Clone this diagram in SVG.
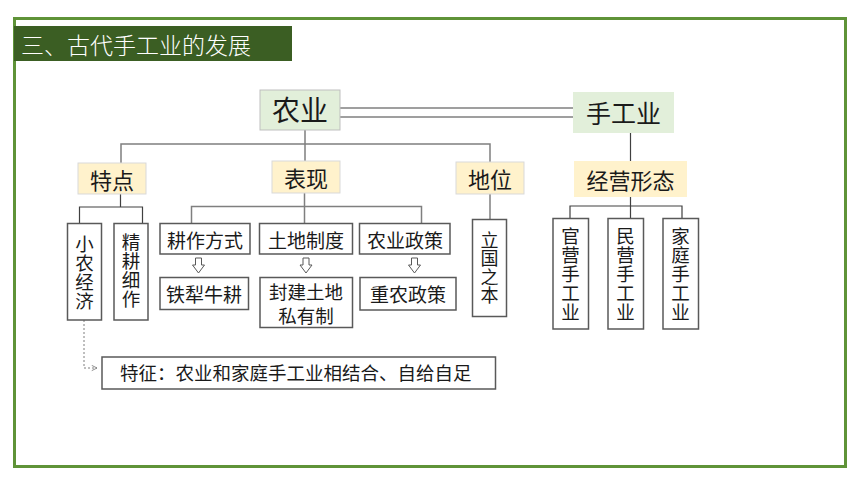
<svg xmlns="http://www.w3.org/2000/svg" width="860" height="484" viewBox="0 0 860 484">
<style>
text{font-family:"Noto Sans CJK SC","Noto Sans",sans-serif;fill:#1a1a1a;}
.box{fill:#fff;stroke:#595959;stroke-width:1.5;}
.yel{fill:#FFF2CC;stroke:#D9D9D9;stroke-width:1;}
.grn{fill:#E2EFDA;stroke:#BFBFBF;stroke-width:1;}
.ln{fill:none;stroke:#7F7F7F;stroke-width:1.5;}
.dk{fill:none;stroke:#404040;stroke-width:1.2;}
.arr{fill:#fff;stroke:#595959;stroke-width:1;}
.c{text-anchor:middle;dominant-baseline:central;}
.v{font-size:18.5px;text-anchor:middle;writing-mode:vertical-rl;}
.v2{font-size:18px;text-anchor:middle;writing-mode:vertical-rl;}
</style>
<defs>
<marker id="ah" viewBox="0 0 8 8" refX="7" refY="4" markerWidth="7" markerHeight="7" orient="auto" markerUnits="userSpaceOnUse">
<path d="M1,1 L7,4 L1,7" fill="none" stroke="#7F7F7F" stroke-width="1"/>
</marker>
</defs>
<rect x="0" y="0" width="860" height="484" fill="#fff"/>
<rect x="14.5" y="18.5" width="831" height="448" fill="none" stroke="#5F9338" stroke-width="3"/>
<g id="title">
<rect x="14" y="26" width="278" height="35" fill="#3B5E23"/>
<text x="21" y="44" style="font-size:23px;fill:#fff;font-weight:300;dominant-baseline:central">三、古代手工业的发展</text>
</g>
<g id="connectors">
<line class="ln" x1="340" y1="108" x2="574" y2="108"/>
<line class="ln" x1="340" y1="117" x2="574" y2="117"/>
<path class="ln" d="M305,130 V163 M121,163 V144 H490 V163"/>
<path class="dk" d="M630.5,133 V161"/>
<path class="dk" d="M120.5,194 V207 M79.5,223 V207 H142.5 V223"/>
<path class="ln" d="M304.5,193 V223 M191.5,223 V206.5 H421.5 V223"/>
<path class="ln" d="M490,194 V219"/>
<path class="dk" d="M630.5,197 V218 M570,218 V206 H682 V218"/>
<path d="M84,320 V368 H97" fill="none" stroke="#7F7F7F" stroke-width="1" stroke-dasharray="2,2" marker-end="url(#ah)"/>
<polygon class="arr" points="195.5,258 201.5,258 201.5,265 204.5,265 198.5,273 192.5,265 195.5,265"/>
<polygon class="arr" points="303,258 309,258 309,265 312,265 306,273 300,265 303,265"/>
<polygon class="arr" points="411.5,258 417.5,258 417.5,265 420.5,265 414.5,273 408.5,265 411.5,265"/>
</g>
<g id="nongye"><rect class="grn" x="260" y="90" width="80" height="40"/><text class="c" x="300" y="109" style="font-size:28px">农业</text></g>
<g id="shougongye"><rect x="573" y="92" width="101" height="41" fill="#E2EFDA"/><text class="c" x="623.5" y="112" style="font-size:25px">手工业</text></g>
<g id="tedian"><rect class="yel" x="78" y="163" width="68" height="31"/><text class="c" x="112" y="179" style="font-size:22px">特点</text></g>
<g id="biaoxian"><rect class="yel" x="272" y="161" width="68" height="32"/><text class="c" x="306" y="177" style="font-size:22px">表现</text></g>
<g id="diwei"><rect class="yel" x="456" y="162" width="68" height="32"/><text class="c" x="490" y="178" style="font-size:22px">地位</text></g>
<g id="jingying"><rect x="574" y="161" width="113" height="36" fill="#FFF2CC"/><text class="c" x="630.5" y="179" style="font-size:22px">经营形态</text></g>
<g id="xiaonong"><rect class="box" x="67.5" y="223.5" width="34" height="96.5"/>
<text class="v" x="84.5" y="244">小</text><text class="v" x="84.5" y="263">农</text><text class="v" x="84.5" y="282">经</text><text class="v" x="84.5" y="301">济</text></g>
<g id="jinggeng"><rect class="box" x="114" y="223.5" width="34" height="96.5"/>
<text class="v" x="131" y="242">精</text><text class="v" x="131" y="261">耕</text><text class="v" x="131" y="280">细</text><text class="v" x="131" y="299">作</text></g>
<g id="gengzuo"><rect class="box" x="160" y="223.5" width="90" height="30.5"/><text class="c" x="205" y="239" style="font-size:19px">耕作方式</text></g>
<g id="tudi"><rect class="box" x="259.5" y="223.5" width="93" height="30.5"/><text class="c" x="306" y="239" style="font-size:19px">土地制度</text></g>
<g id="zhengce"><rect class="box" x="359.5" y="223.5" width="90.5" height="30.5"/><text class="c" x="405" y="239" style="font-size:19px">农业政策</text></g>
<g id="tieli"><rect class="box" x="160" y="277.5" width="88.5" height="32"/><text class="c" x="204" y="293" style="font-size:19px">铁犁牛耕</text></g>
<g id="fengjian"><rect class="box" x="260" y="277.5" width="92.5" height="50"/><text class="c" x="306" y="291" style="font-size:18.5px">封建土地</text><text class="c" x="306" y="314.5" style="font-size:18.5px">私有制</text></g>
<g id="zhongnong"><rect class="box" x="360" y="277.5" width="96" height="32.5"/><text class="c" x="408" y="293.5" style="font-size:19px">重农政策</text></g>
<g id="liguo"><rect class="box" x="472.5" y="219.5" width="34" height="97"/>
<text class="v2" x="489.5" y="240">立</text><text class="v2" x="489.5" y="258.5">国</text><text class="v2" x="489.5" y="277">之</text><text class="v2" x="489.5" y="295.5">本</text></g>
<g id="guanying"><rect class="box" x="553" y="218.5" width="35.5" height="110.5"/>
<text class="v" x="570.5" y="236">官</text><text class="v" x="570.5" y="255">营</text><text class="v" x="570.5" y="274">手</text><text class="v" x="570.5" y="293">工</text><text class="v" x="570.5" y="312">业</text></g>
<g id="minying"><rect class="box" x="608" y="218.5" width="35.5" height="110.5"/>
<text class="v" x="625.5" y="236">民</text><text class="v" x="625.5" y="255">营</text><text class="v" x="625.5" y="274">手</text><text class="v" x="625.5" y="293">工</text><text class="v" x="625.5" y="312">业</text></g>
<g id="jiating"><rect class="box" x="663" y="218.5" width="35.5" height="110.5"/>
<text class="v" x="680.5" y="236">家</text><text class="v" x="680.5" y="255">庭</text><text class="v" x="680.5" y="274">手</text><text class="v" x="680.5" y="293">工</text><text class="v" x="680.5" y="312">业</text></g>
<g id="tezheng"><rect class="box" x="102" y="357" width="393.5" height="32"/><text x="120" y="372" style="font-size:18.5px;dominant-baseline:central">特征：农业和家庭手工业相结合、自给自足</text></g>
</svg>
